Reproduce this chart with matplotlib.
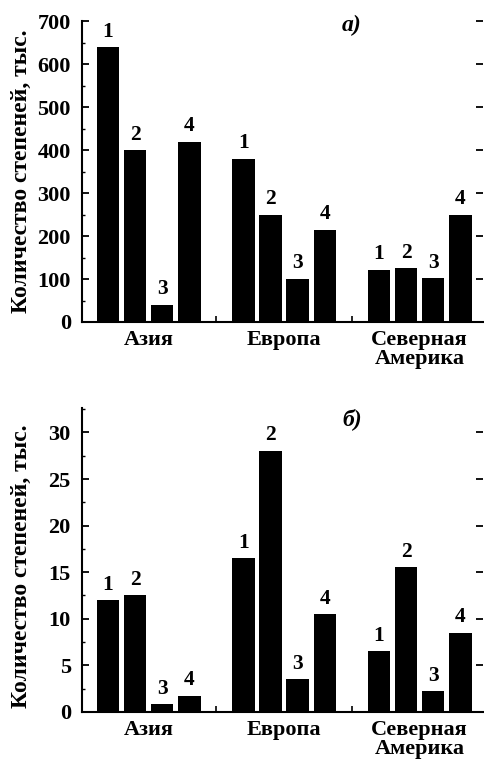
import numpy as np
import matplotlib.pyplot as plt
from matplotlib.ticker import MultipleLocator, FixedLocator

plt.rcParams['font.family'] = ['Liberation Serif', 'DejaVu Serif']

regions = ['Азия', 'Европа', 'Северная\nАмерика']
series_names = ['1', '2', '3', '4']

# thousands, panel a) and panel б)
vals_a = [[640, 400, 40, 420],
          [380, 250, 100, 215],
          [122, 125, 102, 250]]
vals_b = [[12.0, 12.5, 0.8, 1.7],
          [16.5, 28.0, 3.5, 10.5],
          [6.5, 15.5, 2.2, 8.5]]

ylabel = 'Количество степеней, тыс.'

fig = plt.figure(figsize=(4.85, 7.63), dpi=100)
ax_a = fig.add_axes([0.169, 0.578, 0.827, 0.394])
ax_b = fig.add_axes([0.169, 0.067, 0.827, 0.398])


def draw_panel(ax, vals, ylim, major, minor, tag, tag_y):
    for g, row in enumerate(vals):
        x = np.arange(4) + 5 * g
        bars = ax.bar(x, row, width=0.83, color='black')
        ax.bar_label(bars, labels=series_names, padding=4,
                     fontsize=15.5, fontweight='bold')
    ax.set_xlim(-0.96, 13.84)
    ax.set_ylim(0, ylim)
    ax.yaxis.set_major_locator(MultipleLocator(major))
    ax.yaxis.set_minor_locator(MultipleLocator(minor))
    ax.set_xticks([1.5, 6.5, 11.5])
    ax.set_xticklabels(regions, fontsize=16, fontweight='bold', linespacing=0.9)
    ax.xaxis.set_minor_locator(FixedLocator([4, 9]))
    ax.tick_params(axis='x', which='major', length=0, pad=6)
    ax.tick_params(axis='x', which='minor', direction='in', length=4, width=1.2)
    ax.tick_params(axis='y', which='major', direction='in', length=5, width=1.3,
                   right=True, labelsize=16, pad=8)
    ax.tick_params(axis='y', which='minor', direction='in', length=2.5, width=1)
    for lab in ax.get_yticklabels():
        lab.set_fontweight('bold')
    ax.spines['top'].set_visible(False)
    ax.spines['right'].set_visible(False)
    ax.spines['left'].set_linewidth(1.5)
    ax.spines['bottom'].set_linewidth(1.5)
    ax.set_ylabel(ylabel, fontsize=17, fontweight='bold')
    ax.text(9.0, tag_y, tag, fontsize=17, fontstyle='italic', fontweight='bold',
            ha='center', va='center')


draw_panel(ax_a, vals_a, 700, 100, 50, 'а)', 690)
draw_panel(ax_b, vals_b, 32.6, 5, 2.5, 'б)', 31.4)

ax_a.yaxis.set_label_coords(-0.125, 0.5)
ax_b.yaxis.set_label_coords(-0.125, 0.48)

fig.savefig('out.png', dpi=100)
